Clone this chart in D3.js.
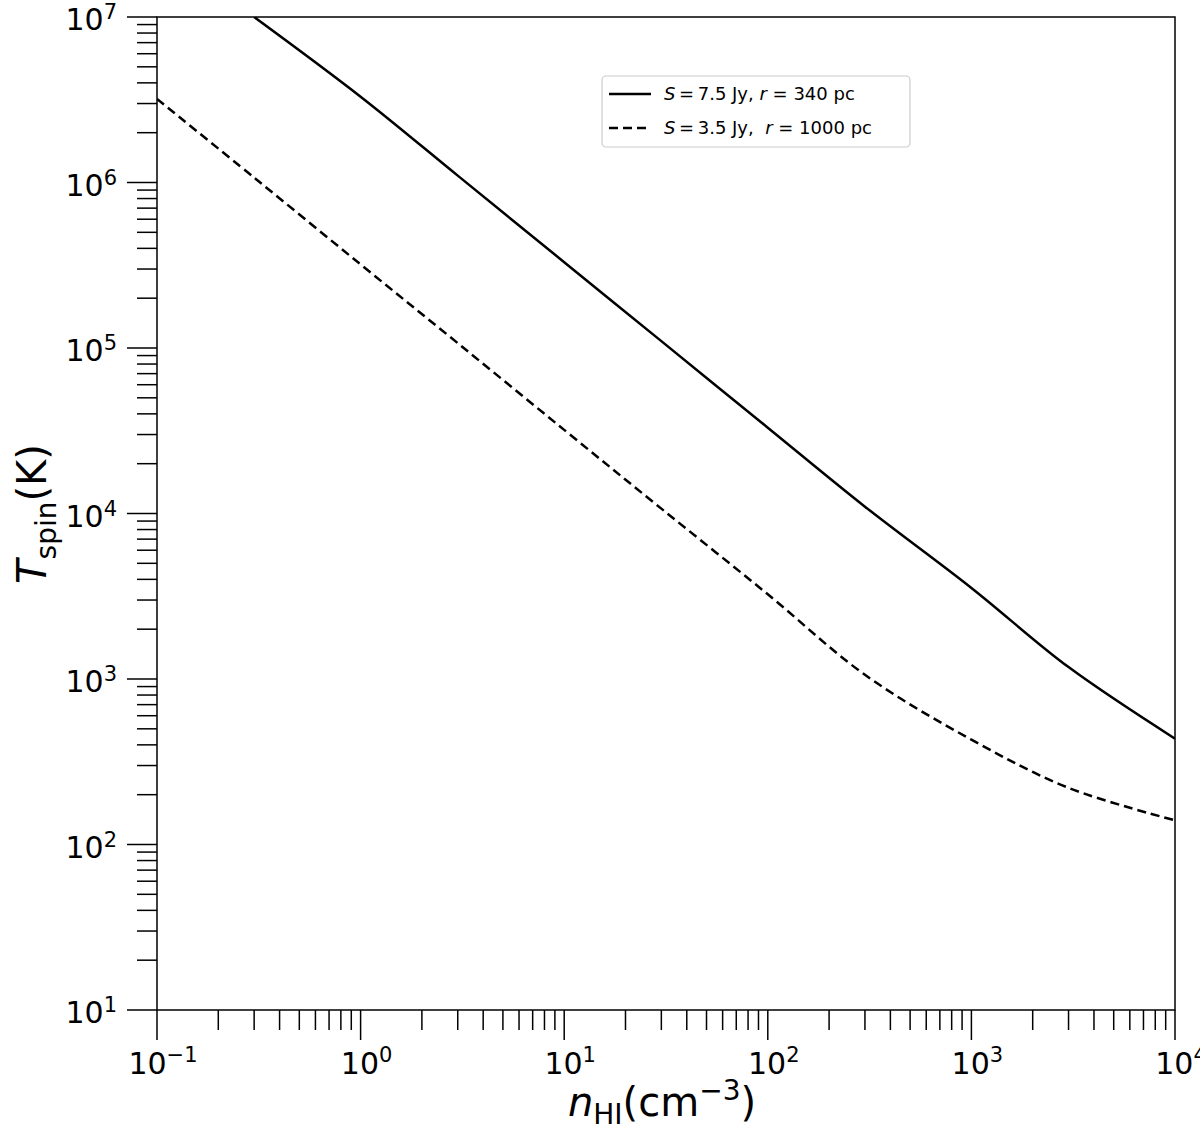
<!DOCTYPE html><html><head><meta charset="utf-8">
<script src="https://cdn.jsdelivr.net/npm/d3@7"></script>
<style>body{margin:0;background:#fff}text{font-family:"DejaVu Sans",sans-serif}</style></head><body>
<script>
const nSolid=[0.3,1,3,10,30,100,300,1000,3000,10000];
const tSolid=[1e7,3.3e6,1.1e6,3.3e5,1.1e5,3.3e4,1.1e4,3550,1180,436];
const nDash=[0.1,0.3,1,3,10,30,100,300,1000,3000,10000];
const tDash=[3.2e6,1.07e6,3.2e5,1.07e5,3.2e4,1.07e4,3250,1060,430,220,140];
const xTicks=[-1,0,1,2,3,4], yTicks=[1,2,3,4,5,6,7];
const L=157,R=1175,T=17,B=1010;
const svg=d3.select("body").append("svg").attr("width",1200).attr("height",1141);
const x=d3.scaleLog().domain([0.1,1e4]).range([L,R]);
const y=d3.scaleLog().domain([10,1e7]).range([B,T]);
svg.append("rect").attr("x",L).attr("y",T).attr("width",R-L).attr("height",B-T).attr("fill","none").attr("stroke","#000").attr("stroke-width",1.5);
const g=svg.append("g");
for(let e=-1;e<=4;e++)for(let m=1;m<10;m++){const v=m*10**e;if(v>1e4)break;const px=x(v);
 g.append("line").attr("x1",px).attr("x2",px).attr("y1",B).attr("y2",B+(m==1?30:20)).attr("stroke","#000").attr("stroke-width",1.5);}
for(let e=1;e<=7;e++)for(let m=1;m<10;m++){const v=m*10**e;if(v>1e7)break;const py=y(v);
 g.append("line").attr("x1",L).attr("x2",L-(m==1?30:20)).attr("y1",py).attr("y2",py).attr("stroke","#000").attr("stroke-width",1.5);}
xTicks.forEach(e=>{const t=svg.append("text").attr("x",x(10**e)+6).attr("y",1074).attr("text-anchor","middle").attr("font-size",30);
 t.append("tspan").text("10");t.append("tspan").attr("dy",-12).attr("font-size",21).text(e<0?"\u2212"+(-e):e);});
yTicks.forEach(e=>{const t=svg.append("text").attr("x",117).attr("y",y(10**e)+13).attr("text-anchor","end").attr("font-size",30);
 t.append("tspan").text("10");t.append("tspan").attr("dy",-11).attr("font-size",21).text(e);});
const line=d3.line().x(d=>x(d[0])).y(d=>y(d[1])).curve(d3.curveCatmullRom);
svg.append("clipPath").attr("id","c").append("rect").attr("x",L).attr("y",T).attr("width",R-L).attr("height",B-T);
svg.append("path").attr("clip-path","url(#c)").attr("d",line(d3.zip(nSolid,tSolid))).attr("fill","none").attr("stroke","#000").attr("stroke-width",2.5);
svg.append("path").attr("clip-path","url(#c)").attr("d",line(d3.zip(nDash,tDash))).attr("fill","none").attr("stroke","#000").attr("stroke-width",2.5).attr("stroke-dasharray","9,5");
svg.append("rect").attr("x",602).attr("y",76).attr("width",308).attr("height",71).attr("rx",4).attr("fill","#fff").attr("stroke","#ccc").attr("stroke-width",1.2);
[0,1].forEach(i=>{const yy=94+i*34;
 svg.append("line").attr("x1",609).attr("x2",651).attr("y1",yy).attr("y2",yy).attr("stroke","#000").attr("stroke-width",2.5).attr("stroke-dasharray",i?"9,5":null);
 const t=svg.append("text").attr("x",664).attr("y",yy+6).attr("font-size",18);
 const parts=i?[["S","i"],["\u2009=\u20093.5 Jy,  ",""],["r","i"],[" = 1000 pc",""]]:[["S","i"],["\u2009=\u20097.5 Jy, ",""],["r","i"],[" = 340 pc",""]];
 parts.forEach(p=>t.append("tspan").attr("font-style",p[1]?"italic":null).attr("xml:space","preserve").text(p[0]));});
const xt=svg.append("text").attr("x",662).attr("y",1116).attr("text-anchor","middle").attr("font-size",40);
xt.append("tspan").attr("font-style","italic").text("n");xt.append("tspan").attr("dy",8).attr("font-size",28).text("HI");xt.append("tspan").attr("dy",-8).text("(cm");xt.append("tspan").attr("dy",-16).attr("font-size",28).text("\u22123");xt.append("tspan").attr("dy",16).text(")");
const yt=svg.append("text").attr("transform","translate(46,514) rotate(-90)").attr("text-anchor","middle").attr("font-size",40);
yt.append("tspan").attr("font-style","italic").text("T");yt.append("tspan").attr("dy",10).attr("font-size",28).text("spin");yt.append("tspan").attr("dy",-10).text("(K)");
</script></body></html>
